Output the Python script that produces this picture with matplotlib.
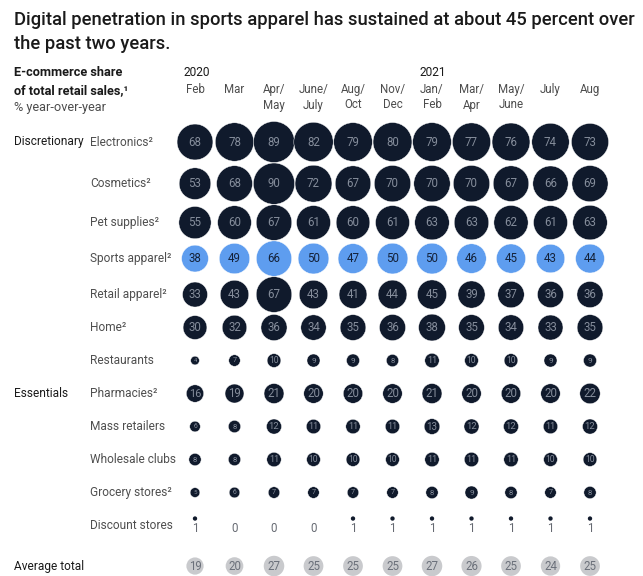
import numpy as np
import matplotlib
matplotlib.use("Agg")
import matplotlib.pyplot as plt

# ---------------- data ----------------
columns = ["Feb", "Mar", "Apr/\nMay", "June/\nJuly", "Aug/\nOct", "Nov/\nDec",
           "Jan/\nFeb", "Mar/\nApr", "May/\nJune", "July", "Aug"]
year_labels = ["2020", "2021"]
year_cols = [0, 6]

row_labels = ["Electronics²", "Cosmetics²", "Pet supplies²", "Sports apparel²",
              "Retail apparel²", "Home²", "Restaurants", "Pharmacies²",
              "Mass retailers", "Wholesale clubs", "Grocery stores²", "Discount stores"]
group_labels = ["Discretionary", "Essentials", "Average total"]
group_rows = [0, 7, 12]

electronics = [68, 78, 89, 82, 79, 80, 79, 77, 76, 74, 73]
cosmetics = [53, 68, 90, 72, 67, 70, 70, 70, 67, 66, 69]
pet_supplies = [55, 60, 67, 61, 60, 61, 63, 63, 62, 61, 63]
sports_apparel = [38, 49, 66, 50, 47, 50, 50, 46, 45, 43, 44]
retail_apparel = [33, 43, 67, 43, 41, 44, 45, 39, 37, 36, 36]
home = [30, 32, 36, 34, 35, 36, 38, 35, 34, 33, 35]
restaurants = [4, 7, 10, 9, 9, 8, 11, 10, 10, 9, 9]
pharmacies = [16, 19, 21, 20, 20, 20, 21, 20, 20, 20, 22]
mass_retailers = [6, 8, 12, 11, 11, 11, 13, 12, 12, 11, 12]
wholesale_clubs = [8, 8, 11, 10, 10, 10, 11, 11, 11, 10, 10]
grocery_stores = [5, 6, 7, 7, 7, 7, 8, 9, 8, 7, 8]
discount_stores = [1, 0, 0, 0, 1, 1, 1, 1, 1, 1, 1]
average_total = [19, 20, 27, 25, 25, 25, 27, 26, 25, 24, 25]

series = [electronics, cosmetics, pet_supplies, sports_apparel, retail_apparel, home,
          restaurants, pharmacies, mass_retailers, wholesale_clubs, grocery_stores,
          discount_stores]
highlight_row = 3

# ---------------- style ----------------
DARK = "#101a2c"
BLUE = "#5e9def"
GREY = "#c9cacd"
TXT_ON_DARK = "#858d9b"
TXT_ON_BLUE = "#14223a"
TXT_ON_GREY = "#6b707a"
LABEL = "#4f4f4f"
FONT = ["Roboto", "DejaVu Sans"]
plt.rcParams["font.family"] = FONT

W, H = 643, 576
fig = plt.figure(figsize=(W / 100, H / 100), dpi=100)
ax = fig.add_axes([0, 0, 1, 1])
ax.axis("off")

# x: column index ; y: pixel rows (top-down)
x0px, dxpx = 195, 39.5
ax.set_xlim(-x0px / dxpx, (W - x0px) / dxpx)
ax.set_ylim(H, 0)

PX_PER_SQRT = 4.35         # circle diameter (px) per sqrt(value)
PX_PER_SQRT_AVG = 3.95
PT = 0.72                  # pt per px at 100 dpi

# row layout: spacing follows the largest circle in adjacent rows
max_d = [PX_PER_SQRT * np.sqrt(max(v)) for v in series]
row_y = [142.0]
for r in range(1, len(series)):
    gap = max(33.0, (max_d[r - 1] + max_d[r]) / 2 + 0.5)
    row_y.append(row_y[-1] + gap)
avg_y = row_y[-1] + 33.0 + 7.5


def area(v, k=PX_PER_SQRT):
    return (k * PT) ** 2 * np.asarray(v, dtype=float)


def fs_for(v):
    d_pt = PX_PER_SQRT * PT * np.sqrt(v)
    return float(min(8.3, max(2.8, 0.63 * d_pt)))


def ftext(xp, yp, s, **kw):
    fig.text(xp / W, 1 - yp / H, s, **kw)


ncol = len(columns)
xs = np.arange(ncol)

for r, vals in enumerate(series[:-1]):
    vals = np.array(vals, dtype=float)
    ys = np.full(ncol, row_y[r])
    face = BLUE if r == highlight_row else DARK
    tcol = TXT_ON_BLUE if r == highlight_row else TXT_ON_DARK
    ax.scatter(xs, ys, s=area(vals), color=face, edgecolor="white", linewidth=0.3, zorder=2)
    for x, v in zip(xs, vals):
        ax.text(x, row_y[r], f"{int(v)}", ha="center", va="center", fontsize=fs_for(v),
                color=tcol, zorder=3)

# discount stores: small dot above number
r_disc = len(series) - 1
disc = np.array(discount_stores, dtype=float)
mask = disc > 0
ax.scatter(xs[mask], np.full(mask.sum(), row_y[r_disc] - 7), s=area(disc[mask]),
           color=DARK, linewidth=0, zorder=2)
for x, v in zip(xs, disc):
    ax.text(x, row_y[r_disc] + 3, f"{int(v)}", ha="center", va="center", fontsize=8.3,
            color="#666a72")

# average total
avg = np.array(average_total, dtype=float)
ax.scatter(xs, np.full(ncol, avg_y), s=area(avg, PX_PER_SQRT_AVG), color=GREY,
           linewidth=0, zorder=2)
for x, v in zip(xs, avg):
    ax.text(x, avg_y, f"{int(v)}", ha="center", va="center", fontsize=8.3,
            color=TXT_ON_GREY, zorder=3)

# row labels
for r, lab in enumerate(row_labels):
    ftext(90, row_y[r], lab, fontsize=8.6, color=LABEL, ha="left", va="center")

all_y = row_y + [avg_y]
for lab, r in zip(group_labels, group_rows):
    ftext(14, all_y[r], lab, fontsize=8.6, color="#1a1a1a", ha="left", va="center")

# column headers
for i, c in enumerate(columns):
    ftext(x0px + i * dxpx, 83, c, fontsize=8.3, color="#4d4d4d", ha="center", va="top",
          linespacing=1.25)
for y, c in zip(year_labels, year_cols):
    ftext(x0px + c * dxpx - 12, 72, y, fontsize=8.6, color="#1a1a1a", ha="left", va="center")

# left header
ftext(14, 73, "E-commerce share", fontsize=9.2, fontweight="bold", color="#1a1a1a", va="center")
ftext(14, 91, "of total retail sales,¹", fontsize=9.2, fontweight="bold", color="#1a1a1a", va="center")
ftext(14, 108, "% year-over-year", fontsize=9.2, color="#4d4d4d", va="center")

# title
ftext(14, 20, "Digital penetration in sports apparel has sustained at about 45 percent over",
      fontsize=13.2, fontweight="medium", color="#1a1a1a", va="center")
ftext(14, 44, "the past two years.", fontsize=13.2, fontweight="medium", color="#1a1a1a",
      va="center")

fig.savefig("out.png", dpi=100, facecolor="white")
